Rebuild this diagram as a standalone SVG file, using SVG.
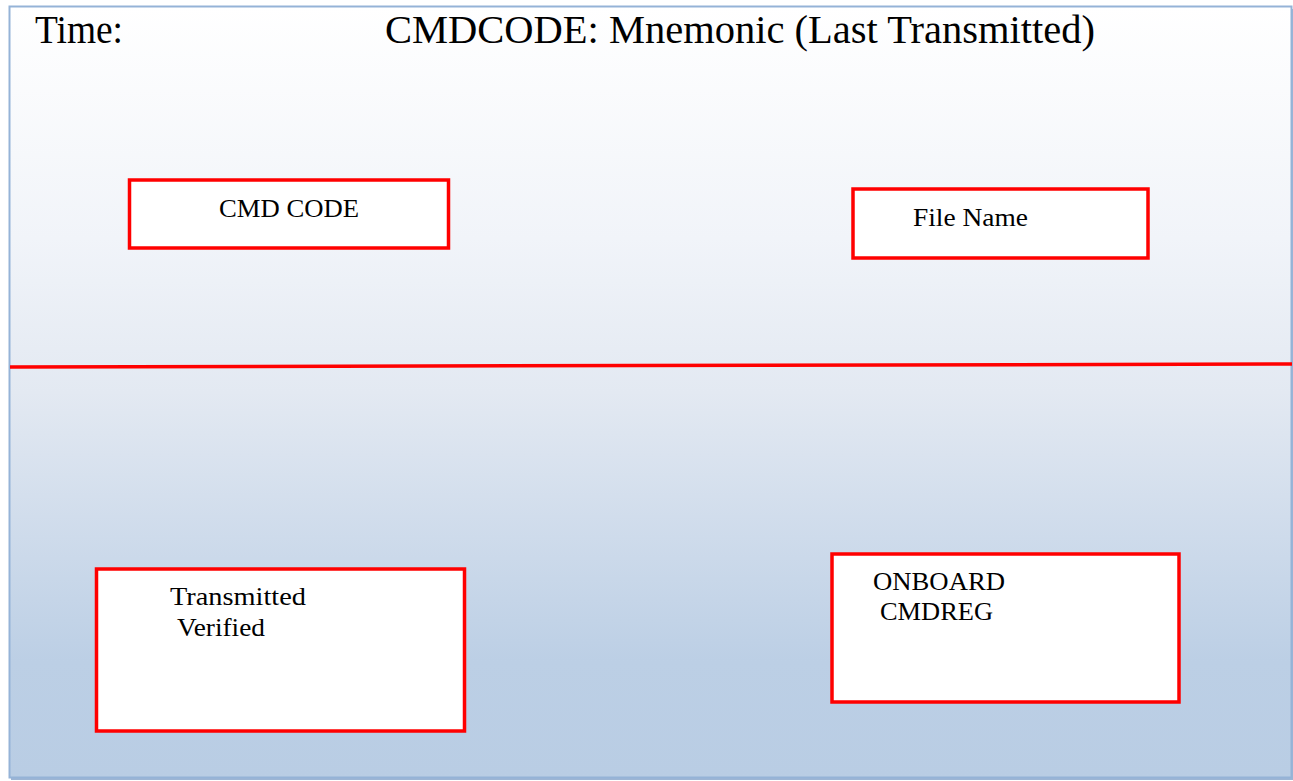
<svg xmlns="http://www.w3.org/2000/svg" width="1293" height="781" viewBox="0 0 1293 781">
  <defs>
    <linearGradient id="bg" x1="0" y1="0" x2="0" y2="1">
      <stop offset="0" stop-color="#ffffff"/>
      <stop offset="0.3" stop-color="#f1f4f9"/>
      <stop offset="0.5" stop-color="#e3e9f2"/>
      <stop offset="0.85" stop-color="#bccfe5"/>
      <stop offset="1" stop-color="#b9cde4"/>
    </linearGradient>
    <style>
      .box { fill: #ffffff; stroke: #ff0000; stroke-width: 3.5; }
      .lbl { font-family: "Liberation Serif", "DejaVu Serif", serif; font-size: 25px; fill: #000000; }
      .ttl { font-family: "Liberation Serif", "DejaVu Serif", serif; font-size: 39px; fill: #000000; }
    </style>
  </defs>
  <rect x="0" y="0" width="1293" height="781" fill="#ffffff"/>
  <g id="frame">
    <rect x="11" y="9" width="1282" height="771" fill="#9db5d4"/>
    <rect x="9.5" y="6.5" width="1282" height="771" fill="url(#bg)" stroke="#95b3d7" stroke-width="2"/>
  </g>
  <g id="title">
    <text class="ttl" x="35" y="43" textLength="88" lengthAdjust="spacingAndGlyphs">Time:</text>
    <text class="ttl" x="385" y="43" textLength="710" lengthAdjust="spacingAndGlyphs">CMDCODE: Mnemonic (Last Transmitted)</text>
  </g>
  <g id="divider">
    <line x1="10" y1="367" x2="1292" y2="364" stroke="#ff0000" stroke-width="3.5"/>
  </g>
  <g id="node-cmdcode">
    <rect class="box" x="129.5" y="180" width="319" height="68"/>
    <text class="lbl" x="219" y="217" textLength="140" lengthAdjust="spacingAndGlyphs">CMD CODE</text>
  </g>
  <g id="node-filename">
    <rect class="box" x="853" y="189" width="295" height="69"/>
    <text class="lbl" x="913" y="226" textLength="115" lengthAdjust="spacingAndGlyphs">File Name</text>
  </g>
  <g id="node-transmitted">
    <rect class="box" x="96.5" y="569" width="368" height="162"/>
    <text class="lbl" x="170" y="605" textLength="136" lengthAdjust="spacingAndGlyphs">Transmitted</text>
    <text class="lbl" x="177" y="636" textLength="88" lengthAdjust="spacingAndGlyphs">Verified</text>
  </g>
  <g id="node-onboard">
    <rect class="box" x="832" y="554" width="347" height="148"/>
    <text class="lbl" x="873" y="590" textLength="132" lengthAdjust="spacingAndGlyphs">ONBOARD</text>
    <text class="lbl" x="880" y="620" textLength="113" lengthAdjust="spacingAndGlyphs">CMDREG</text>
  </g>
  <g id="connectors"/>
</svg>
